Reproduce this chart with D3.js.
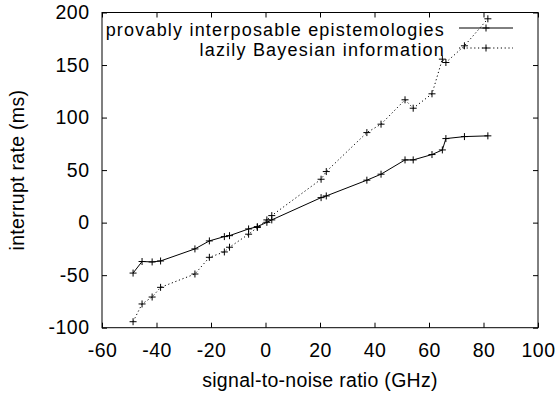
<!DOCTYPE html>
<html>
<head>
<meta charset="utf-8">
<script src="https://cdn.jsdelivr.net/npm/d3@7"></script>
<style>
  body { margin: 0; background: #fff; }
  text { font-family: "Liberation Sans", Arial, sans-serif; fill: #000; }
</style>
</head>
<body>
<div class="container"></div>
<script>
const wd = 559
const ht = 394

// series
const seriesNames = ["provably interposable epistemologies", "lazily Bayesian information"]
const xVals = [-48.6, -45.3, -41.6, -38.5, -25.9, -20.6, -15.1, -13.2, -6.2, -3.0, 0.5, 2.3,
  20.4, 22.3, 37.2, 42.4, 51.2, 54.2, 61.1, 64.9, 66.2, 73.0, 81.6]
const solidY = [-48, -37, -37.4, -36.5, -25, -17.4, -13.3, -12.4, -6, -3.8, 0.3, 2.6,
  23.8, 25.4, 40.4, 46.1, 59.7, 59.7, 64.8, 69.2, 80, 81.9, 82.6]
const dottedY = [-94.3, -77.4, -70.8, -61.6, -48.9, -33, -27.9, -23.4, -11, -4.6, 2.6, 6.7,
  41.3, 48.6, 85.7, 93.7, 116.9, 108.9, 122.6, 155.6, 152.4, 168.3, 194]

const xTicks = [-60, -40, -20, 0, 20, 40, 60, 80, 100]
const yTicks = [-100, -50, 0, 50, 100, 150, 200]

const pLeft = 102, pRight = 538, pTop = 12.5, pBottom = 327.7

const x = d3.scaleLinear().domain([-60, 100]).range([pLeft, pRight])
const y = d3.scaleLinear().domain([-100, 200]).range([pBottom, pTop])

const svg = d3.select(".container").append("svg")
  .attr("width", wd)
  .attr("height", ht)

const tickLen = 5
const fs = 19.5
const hyphen = (d) => String(d)  // plain "-" like the original, not d3's unicode minus

// frame
svg.append("rect")
  .attr("x", pLeft).attr("y", pTop)
  .attr("width", pRight - pLeft).attr("height", pBottom - pTop)
  .attr("fill", "none").attr("stroke", "#000").attr("stroke-width", 1)

// ticks, mirrored inward
const axB = d3.axisBottom(x).tickValues(xTicks).tickFormat(hyphen).tickSizeInner(-tickLen).tickSizeOuter(0).tickPadding(15)
const axT = d3.axisTop(x).tickValues(xTicks).tickSizeInner(-tickLen).tickSizeOuter(0).tickFormat("")
const axL = d3.axisLeft(y).tickValues(yTicks).tickFormat(hyphen).tickSizeInner(-tickLen).tickSizeOuter(0).tickPadding(12.5)
const axR = d3.axisRight(y).tickValues(yTicks).tickSizeInner(-tickLen).tickSizeOuter(0).tickFormat("")

function styleAxis(g) {
  g.select(".domain").remove()
  g.selectAll("line").attr("stroke", "#000")
  g.selectAll("text").attr("font-size", fs).attr("letter-spacing", 0.5)
    .attr("font-family", "Liberation Sans, Arial, sans-serif").attr("fill", "#000")
}

svg.append("g").attr("transform", "translate(0," + pBottom + ")").call(axB).call(styleAxis)
svg.append("g").attr("transform", "translate(0," + pTop + ")").call(axT).call(styleAxis)
svg.append("g").attr("transform", "translate(" + pLeft + ",0)").call(axL).call(styleAxis)
svg.append("g").attr("transform", "translate(" + pRight + ",0)").call(axR).call(styleAxis)

// axis titles
svg.append("text")
  .attr("x", (pLeft + pRight) / 2).attr("y", 387)
  .attr("text-anchor", "middle").attr("font-size", fs).attr("letter-spacing", 0.3)
  .text("signal-to-noise ratio (GHz)")

svg.append("text")
  .attr("transform", "translate(24," + ((pTop + pBottom) / 2) + ") rotate(-90)")
  .attr("text-anchor", "middle").attr("font-size", fs).attr("letter-spacing", 0.3)
  .text("interrupt rate (ms)")

const lineFunc = d3.line()
  .x((d) => x(d[0]))
  .y((d) => y(d[1]))

const series = [
  { name: seriesNames[0], pts: xVals.map((v, i) => [v, solidY[i]]), dash: null },
  { name: seriesNames[1], pts: xVals.map((v, i) => [v, dottedY[i]]), dash: "1.2,2.6" }
]

function plus(g, cx, cy) {
  const s = 3.5
  g.append("path")
    .attr("d", "M" + (cx - s) + "," + cy + "H" + (cx + s) + "M" + cx + "," + (cy - s) + "V" + (cy + s))
    .attr("stroke", "#000").attr("stroke-width", 1).attr("fill", "none")
}

series.forEach((s, k) => {
  const g = svg.append("g")
  g.append("path")
    .attr("d", lineFunc(s.pts))
    .attr("fill", "none").attr("stroke", "#000").attr("stroke-width", 1)
    .attr("stroke-dasharray", s.dash)
  s.pts.forEach((p) => plus(g, x(p[0]), y(p[1])))

  // legend (slightly smaller font so the two rows don't collide)
  const ly = 28 + k * 20
  svg.append("text")
    .attr("x", 445).attr("y", 35.5 + k * 20.5)
    .attr("text-anchor", "end").attr("font-size", 18).attr("letter-spacing", 1.2)
    .text(s.name)
  g.append("path")
    .attr("d", "M459," + ly + "H513")
    .attr("stroke", "#000").attr("stroke-width", 1)
    .attr("stroke-dasharray", s.dash)
  plus(g, 486, ly)
})
</script>
</body>
</html>
